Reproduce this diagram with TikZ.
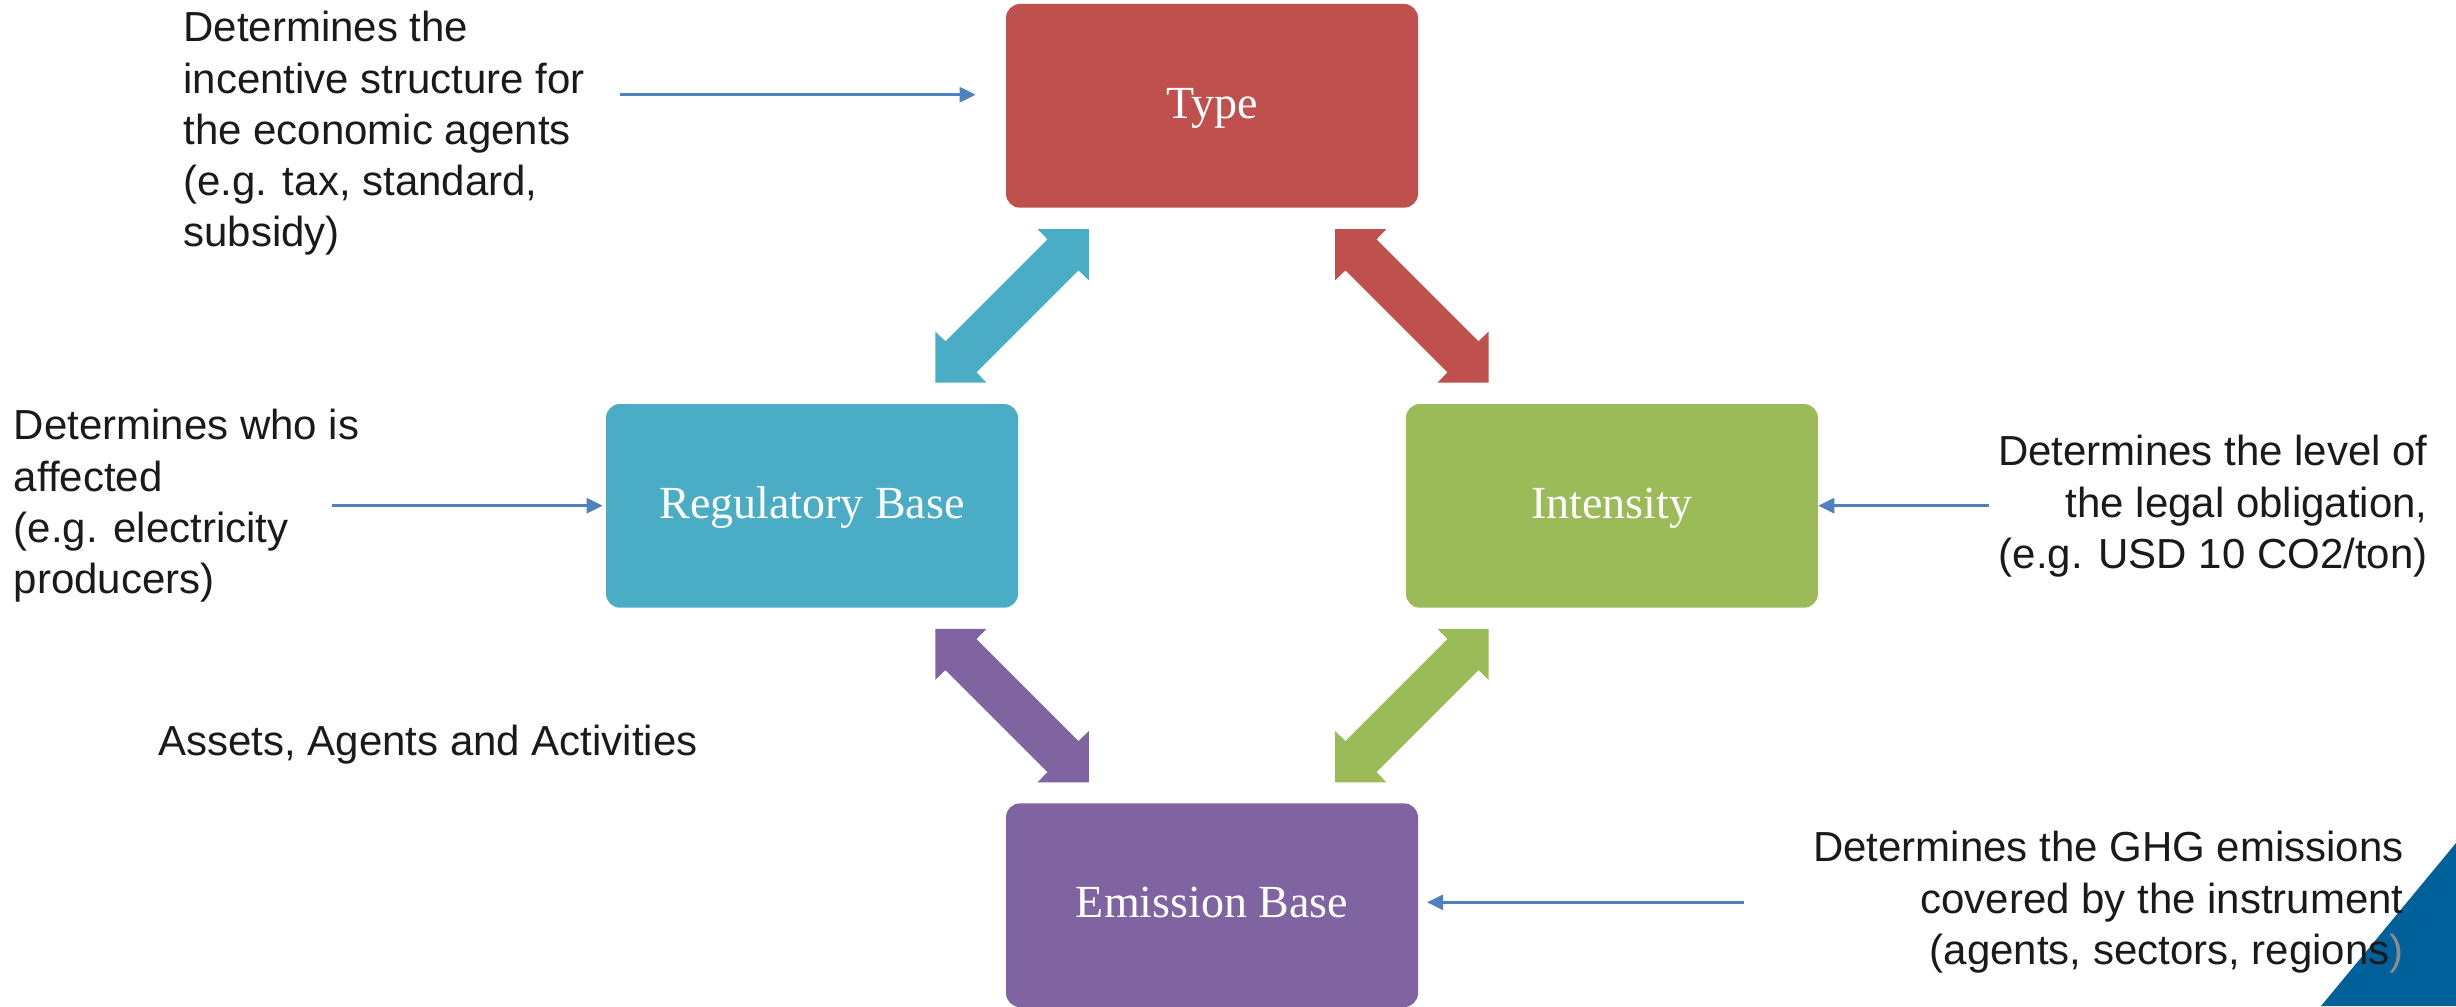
\documentclass[tikz,border=0pt]{standalone}
\usepackage{fontspec}
\setmainfont{Liberation Sans}
\newfontfamily\boxfont{Liberation Serif}
\usetikzlibrary{arrows.meta,calc}
\definecolor{cRed}{RGB}{192,80,77}
\definecolor{cCyan}{RGB}{75,172,198}
\definecolor{cGreen}{RGB}{155,187,89}
\definecolor{cPurple}{RGB}{128,100,162}
\definecolor{cLine}{RGB}{79,129,189}
\definecolor{cCorner}{RGB}{0,96,153}
\definecolor{cParen}{RGB}{140,140,140}
\definecolor{cText}{RGB}{26,26,26}
\begin{document}
\begin{tikzpicture}[x=0.5pt,y=-0.5pt,
  concept/.style={rounded corners=7pt, minimum width=206pt, minimum height=101.85pt,
    inner sep=0pt, text height=12.5pt, text depth=0pt, text=white,
    font=\boxfont\fontsize{23pt}{27pt}\selectfont},
  note/.style={inner sep=0pt, text=cText, font=\fontsize{21pt}{25.6pt}\selectfont},
  ptr/.style={draw=cLine, line width=1.35pt, -{Triangle[length=8pt,width=7.5pt]}},
  dblarr/.pic={\fill[#1] (25.6,-76.75) -- (76.75,-76.75) -- (76.75,-25.6) -- (66.5,-35.5)
    -- (-35.5,66.5) -- (-25.6,76.75) -- (-76.75,76.75) -- (-76.75,25.6) -- (-66.5,35.5)
    -- (35.5,-66.5) -- cycle;}
]
\useasboundingbox (0,0) rectangle (2456,1006);
\fill[cCorner] (2456,843) -- (2456,1006) -- (2321,1006) -- cycle;

\node[concept, fill=cRed] (type) at (1212,105.85) {Type};
\node[concept, fill=cCyan] (reg) at (812,505.85) {Regulatory Base};
\node[concept, fill=cGreen] (int) at (1611.9,505.85) {Intensity};
\node[concept, fill=cPurple] (emi) at (1212,905.2) {Emission Base};

\pic at ($(type.south west)!0.5!(reg.north east)$) {dblarr=cCyan};
\pic[xscale=-1] at ($(type.south east)!0.5!(int.north west)$) {dblarr=cRed};
\pic[xscale=-1] at ($(reg.south east)!0.5!(emi.north west)$) {dblarr=cPurple};
\pic at ($(int.south west)!0.5!(emi.north east)$) {dblarr=cGreen};

\node[note, anchor=north west, align=left] (n1) at (183,11)
  {Determines the\\incentive structure for\\the economic agents\\(e.g. tax, standard,\\subsidy)};
\coordinate (s1) at (620,94.7);
\draw[ptr, shorten >=15pt] (s1) -- (s1 -| type.west);

\node[note, anchor=north west, align=left] (n2) at (13.4,409)
  {Determines who is\\affected\\(e.g. electricity\\producers)};
\coordinate (s2) at (331.5,505.7);
\draw[ptr, shorten >=1.5pt] (s2) -- (s2 -| reg.west);

\node[note, anchor=north east, align=right] (n3) at (2428,435)
  {Determines the level of\\the legal obligation,\\(e.g. USD 10 CO2/ton)};
\coordinate (s3) at (1989,505.7);
\draw[ptr] (s3) -- (s3 -| int.east);

\node[note, anchor=base west] (n4) at (158,755) {Assets, Agents and Activities};

\node[note, anchor=north east, align=right] (n5) at (2404,831)
  {Determines the GHG emissions\\covered by the instrument\\(agents, sectors, regions\textcolor{cParen}{)}};
\coordinate (s5) at (1743.8,902.3);
\draw[ptr, shorten >=4.3pt] (s5) -- (s5 -| emi.east);
\end{tikzpicture}
\end{document}
